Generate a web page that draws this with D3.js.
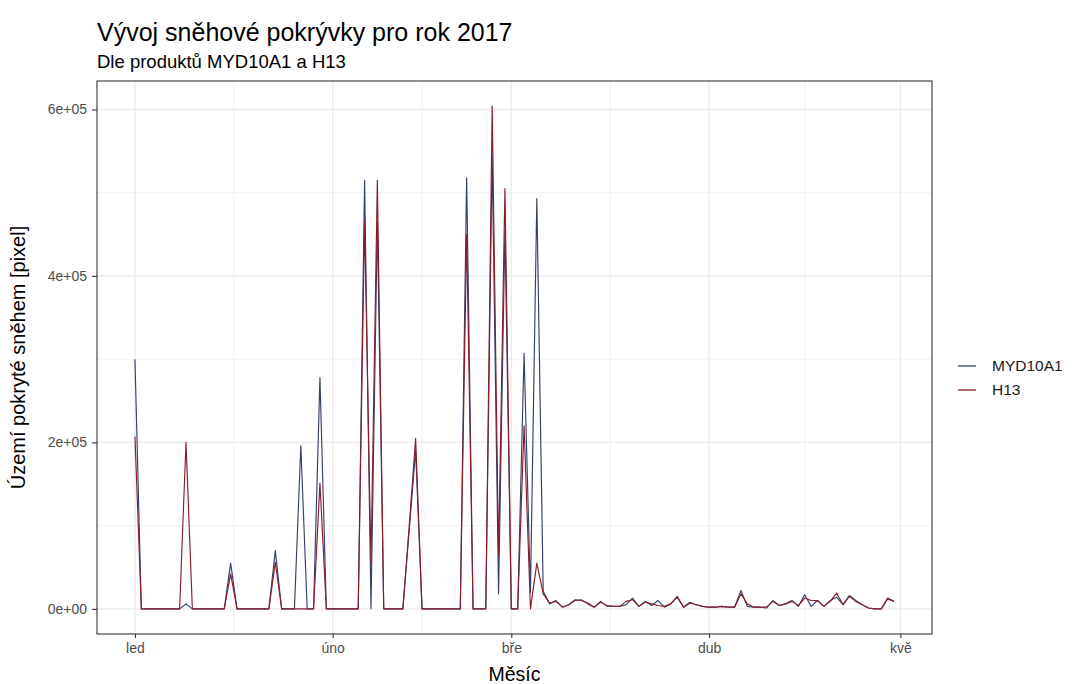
<!DOCTYPE html>
<html>
<head>
<meta charset="utf-8">
<script src="https://cdn.jsdelivr.net/npm/d3@7"></script>
<style>
  body { margin: 0; background: #fff; }
  text { font-family: "Liberation Sans", Arial, sans-serif; }
</style>
</head>
<body>
<svg width="1078" height="684"></svg>
<script>
// daily values from 1.1.2017, one per day
var startDay = "2017-01-01";
var seriesNames = ["MYD10A1", "H13"];
var seriesColors = ["#34416b", "#8a1c2c"];

var myd = [
  300000,0,0,0,0,0,0,0,6000,0,
  0,0,0,0,0,55000,0,0,0,0,
  0,0,70000,0,0,0,196000,0,0,278000,
  0,0,0,0,0,0,515000,0,465000,0,
  0,0,0,95000,190000,0,0,0,0,0,
  0,0,518000,0,0,0,545000,18000,455000,0,
  0,307000,20000,493000,21000,6000,10000,2000,5000,10000,
  11000,6000,2000,9000,3000,3000,3000,5000,13000,3000,
  9000,4000,10000,2000,6000,15000,2000,8000,5000,3000,
  2000,2000,3000,2000,2000,22000,3000,2000,2000,1000,
  10000,4000,6000,10000,3000,17000,3000,10000,3000,10000,
  14000,5000,16000,10000,5000,1000,0,0,13000,9000
];
var h13 = [
  207000,0,0,0,0,0,0,0,200000,0,
  0,0,0,0,0,42000,0,0,0,0,
  0,0,56000,0,0,0,0,0,0,151000,
  0,0,0,0,0,0,465000,55000,515000,0,
  0,0,0,100000,205000,0,0,0,0,0,
  0,0,450000,0,0,0,604000,65000,505000,0,
  0,220000,0,55000,18000,7000,9000,2000,5000,11000,
  10000,7000,2000,8000,4000,3000,3000,9000,11000,3000,
  8000,6000,4000,3000,6000,14000,2000,7000,5000,3000,
  2000,2000,3000,2000,2000,18000,6000,2000,2000,2000,
  9000,4000,6000,9000,4000,13000,10000,10000,3000,9000,
  19000,5000,15000,9000,5000,1000,0,0,12000,9000
];

var monthTicks = ["2017-01-01", "2017-02-01", "2017-03-01", "2017-04-01", "2017-05-01"];
var monthLabels = ["led", "úno", "bře", "dub", "kvě"];
var yTicks = [0, 200000, 400000, 600000];
var yTickLabels = ["0e+00", "2e+05", "4e+05", "6e+05"];

(function () {
var parse = d3.timeParse("%Y-%m-%d");
var t0 = parse(startDay);
var dates = myd.map((d, i) => d3.timeDay.offset(t0, i));
var allSeries = [myd, h13];

var pLeft = 97, pRight = 932, pTop = 81, pBottom = 634;

// ggplot-like 5% expansion
var xExt = d3.extent(dates);
var xPad = (xExt[1] - xExt[0]) * 0.05;
var x = d3.scaleTime()
    .domain([new Date(+xExt[0] - xPad), new Date(+xExt[1] + xPad)])
    .range([pLeft, pRight]);

var yMax = d3.max([d3.max(myd), d3.max(h13)]);
var y = d3.scaleLinear()
    .domain([-yMax * 0.05, yMax * 1.05])
    .range([pBottom, pTop]);

var svg = d3.select("svg");

// minor grid
var tickDates = monthTicks.map(parse);
var minorX = d3.pairs(tickDates).map(p => new Date((+p[0] + +p[1]) / 2));
var minorY = d3.pairs(yTicks).map(p => (p[0] + p[1]) / 2);

var grid = svg.append("g");
grid.selectAll(".mx").data(minorX).enter().append("line")
    .attr("x1", d => x(d)).attr("x2", d => x(d))
    .attr("y1", pTop).attr("y2", pBottom)
    .attr("stroke", "#ebebeb").attr("stroke-width", 0.7);
grid.selectAll(".my").data(minorY).enter().append("line")
    .attr("x1", pLeft).attr("x2", pRight)
    .attr("y1", d => y(d)).attr("y2", d => y(d))
    .attr("stroke", "#ebebeb").attr("stroke-width", 0.7);
grid.selectAll(".gx").data(tickDates).enter().append("line")
    .attr("x1", d => x(d)).attr("x2", d => x(d))
    .attr("y1", pTop).attr("y2", pBottom)
    .attr("stroke", "#ebebeb").attr("stroke-width", 1.4);
grid.selectAll(".gy").data(yTicks).enter().append("line")
    .attr("x1", pLeft).attr("x2", pRight)
    .attr("y1", d => y(d)).attr("y2", d => y(d))
    .attr("stroke", "#ebebeb").attr("stroke-width", 1.4);

// lines
var line = d3.line()
    .x((d, i) => x(dates[i]))
    .y(d => y(d));

allSeries.forEach((s, k) => {
    svg.append("path")
        .datum(s)
        .attr("d", line)
        .attr("fill", "none")
        .attr("stroke", seriesColors[k])
        .attr("stroke-width", 1.15)
        .attr("stroke-linejoin", "round");
});

// panel border
svg.append("rect")
    .attr("x", pLeft).attr("y", pTop)
    .attr("width", pRight - pLeft).attr("height", pBottom - pTop)
    .attr("fill", "none").attr("stroke", "#333333").attr("stroke-width", 1.1);

// axes
var xAxis = d3.axisBottom(x)
    .tickValues(tickDates)
    .tickFormat((d, i) => monthLabels[i])
    .tickSize(4).tickPadding(5);
var gx = svg.append("g").attr("transform", "translate(0," + pBottom + ")").call(xAxis);

var yAxis = d3.axisLeft(y)
    .tickValues(yTicks)
    .tickFormat((d, i) => yTickLabels[i])
    .tickSize(5).tickPadding(5);
var gy = svg.append("g").attr("transform", "translate(" + pLeft + ",0)").call(yAxis);

[gx, gy].forEach(g => {
    g.select(".domain").remove();
    g.selectAll(".tick line").attr("stroke", "#333333").attr("stroke-width", 1.1);
    g.selectAll(".tick text")
        .attr("fill", "#4d4d4d")
        .style("font-size", "14px")
        .style("font-family", "'Liberation Sans', Arial, sans-serif");
});

// axis titles
svg.append("text")
    .attr("x", (pLeft + pRight) / 2).attr("y", 681)
    .attr("text-anchor", "middle")
    .style("font-size", "19.5px")
    .text("Měsíc");

svg.append("text")
    .attr("transform", "translate(25," + ((pTop + pBottom) / 2) + ") rotate(-90)")
    .attr("text-anchor", "middle")
    .style("font-size", "20px")
    .text("Území pokryté sněhem [pixel]");

// title + subtitle
svg.append("text")
    .attr("x", pLeft).attr("y", 41)
    .style("font-size", "25px")
    .text("Vývoj sněhové pokrývky pro rok 2017");
svg.append("text")
    .attr("x", pLeft).attr("y", 68)
    .style("font-size", "18.5px")
    .text("Dle produktů MYD10A1 a H13");

// legend
var legend = svg.append("g").attr("transform", "translate(956,366)");
seriesNames.forEach((name, k) => {
    var g = legend.append("g").attr("transform", "translate(0," + (k * 24) + ")");
    g.append("line")
        .attr("x1", 2).attr("x2", 20)
        .attr("y1", 0).attr("y2", 0)
        .attr("stroke", seriesColors[k]).attr("stroke-width", 1.3);
    g.append("text")
        .attr("x", 36).attr("y", 0)
        .attr("dy", "0.35em")
        .style("font-size", "15.5px")
        .attr("fill", "#1a1a1a")
        .text(name);
});
})();
</script>
</body>
</html>
